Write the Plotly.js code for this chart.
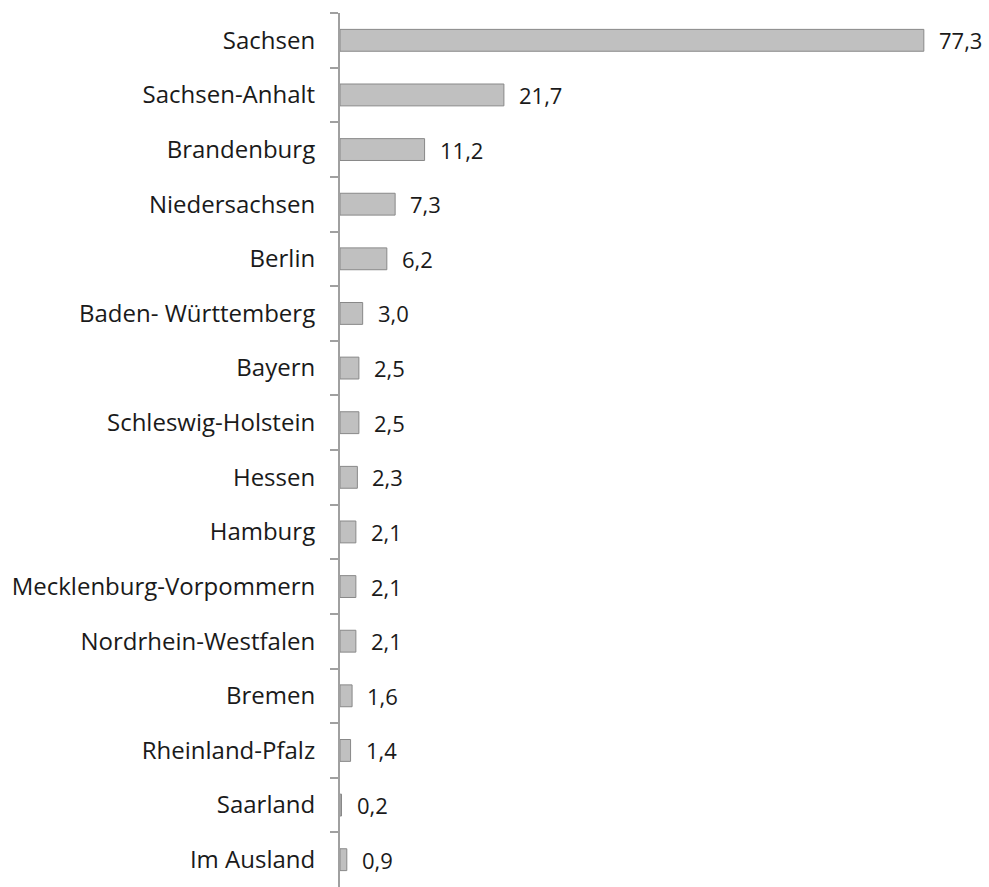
<!DOCTYPE html>
<html>
<head>
<meta charset="utf-8">
<script src="https://cdn.plot.ly/plotly-3.0.1.min.js"></script>
<style>html,body{margin:0;padding:0;background:#fff;}#chart{width:989px;height:887px;}</style>
</head>
<body>
<div id="chart"></div>
<script>
const categories = ["Sachsen","Sachsen-Anhalt","Brandenburg","Niedersachsen","Berlin","Baden- Württemberg","Bayern","Schleswig-Holstein","Hessen","Hamburg","Mecklenburg-Vorpommern","Nordrhein-Westfalen","Bremen","Rheinland-Pfalz","Saarland","Im Ausland"];
const values = [77.3,21.7,11.2,7.3,6.2,3.0,2.5,2.5,2.3,2.1,2.1,2.1,1.6,1.4,0.2,0.9];
const valueLabels = values.map(v => v.toFixed(1).replace('.', ','));

const catFont = {family: '"Open Sans", sans-serif', size: 24, color: '#1a1a1a'};
const valFont = {family: '"Open Sans", sans-serif', size: 22, color: '#1a1a1a'};

const trace = {
  type: 'bar',
  orientation: 'h',
  y: categories,
  x: values,
  marker: {color: '#c0c0c0', line: {color: '#888888', width: 1}},
  hoverinfo: 'none'
};

const annotations = values.map((v, i) => ({
  x: v, y: categories[i], xref: 'x', yref: 'y',
  text: valueLabels[i], showarrow: false,
  xanchor: 'left', yanchor: 'middle', xshift: 13,
  font: valFont
}));

const layout = {
  width: 989, height: 887,
  margin: {l: 340, r: 7, t: 13, b: 0},
  paper_bgcolor: '#fff', plot_bgcolor: '#fff',
  showlegend: false,
  bargap: 0.6,
  font: catFont,
  xaxis: {range: [0, 85], visible: false, fixedrange: true},
  yaxis: {
    type: 'category',
    autorange: 'reversed',
    tickson: 'boundaries',
    ticks: 'outside', ticklen: 8, tickwidth: 2, tickcolor: '#a0a0a0',
    showline: true, linecolor: '#a0a0a0', linewidth: 2,
    showgrid: false, zeroline: false,
    ticklabelstandoff: 18,
    tickfont: catFont
  },
  annotations: annotations
};

Plotly.newPlot('chart', [trace], layout, {displayModeBar: false, staticPlot: true});
</script>
</body>
</html>
